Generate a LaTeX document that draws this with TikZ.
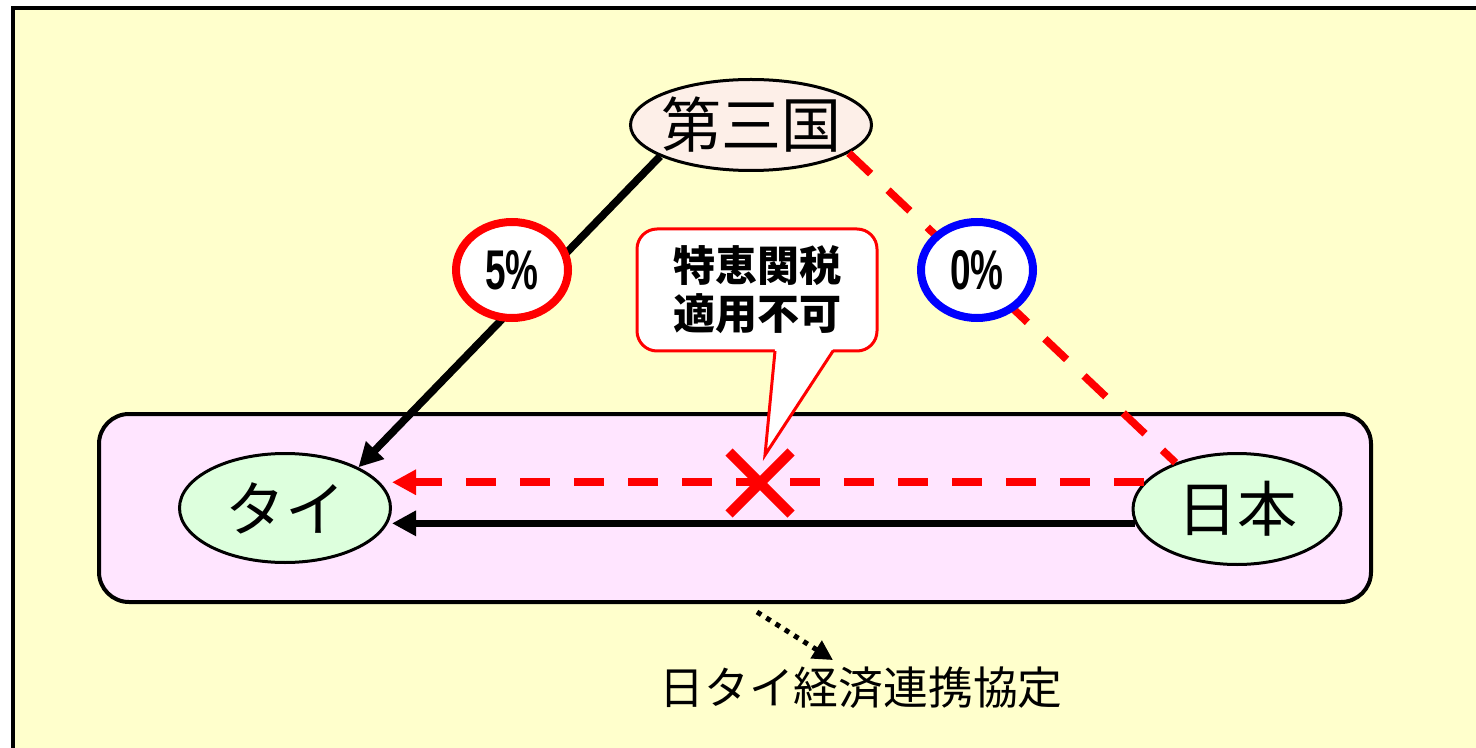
\documentclass[tikz,border=0pt]{standalone}
\usepackage{fontspec}
\newfontfamily\jp{Noto Sans CJK JP}
\newfontfamily\num[FakeStretch=0.66]{Liberation Sans}
\usepackage{tikz}
\usetikzlibrary{arrows.meta,shapes.geometric,shapes.misc}
\definecolor{paper}{RGB}{255,255,204}
\definecolor{epa}{RGB}{255,229,255}
\definecolor{land}{RGB}{221,255,221}
\definecolor{other}{RGB}{253,239,232}

\begin{document}
\begin{tikzpicture}[x=0.5pt, y=-0.5pt, >={Triangle[length=12pt,width=12pt]}]
\tikzstyle{country}=[draw, ellipse, line width=1.5pt, inner sep=0pt, fill=land, font=\jp\fontsize{30pt}{30pt}\selectfont];
\tikzstyle{rate}=[draw, ellipse, line width=4pt, inner sep=0pt, fill=white, minimum width=56pt, minimum height=48pt, font=\num\bfseries\fontsize{28pt}{28pt}\selectfont];
\tikzstyle{flow}=[line width=3.8pt];
\tikzstyle{blocked}=[line width=3.8pt, red, dash pattern=on 15pt off 12pt];
\useasboundingbox (0,0) rectangle (1476,748);
\clip (0,0) rectangle (1476,748);
\draw[line width=2pt, fill=paper] (13,8) rectangle (1500,770);
% agreement area
\path (735,508) node[draw, rounded corners=15pt, line width=2pt, fill=epa, minimum width=636pt, minimum height=94pt] (E) {};
\path (751,125) node[country, fill=other, inner xsep=-3pt, minimum width=120.5pt, minimum height=45.5pt] (S) {第三国};
\path (285,508) node[country, minimum width=105.5pt, minimum height=54.5pt] (T) {タイ};
\path (1237,509) node[country, minimum width=104pt, minimum height=55.5pt] (J) {日本};
% trade routes
\path[flow, ->] (S.199) edge (T.29);
\path[blocked] (S.344) edge (J.143);
\path[blocked, ->] (J.164) edge (J.164 -| T.east);
\path[flow, ->] (J.188) edge (J.188 -| T.east);
% tariff rates
\path (512,270) node[rate, draw=red] (R) {5\%};
\path (977,270) node[rate, draw=blue] (Z) {0\%};
% callout
\path (757,290) node[draw=red, fill=white, line width=1.5pt, rounded corners=10pt, outer sep=0pt, minimum width=120pt, minimum height=61pt, align=center, font=\jp\bfseries\fontsize{21pt}{24pt}\selectfont] (C) {特恵関税\\適用不可};
\coordinate (P) at (765,455);
\fill[white] ([xshift=9pt, yshift=1pt]C.south) -- (P) -- ([xshift=38pt, yshift=1pt]C.south) -- cycle;
\draw[red, line width=1.5pt] ([xshift=9pt]C.south) -- (P) -- ([xshift=38pt]C.south);
\path (760,483) node[cross out, draw=red, line width=5pt, minimum size=26pt, inner sep=0pt] (X) {};
% label
\path (861,688) node[font=\jp\fontsize{22.4pt}{22.4pt}\selectfont] (L) {日タイ経済連携協定};
\path[line width=2.5pt, dash pattern=on 2.5pt off 3pt, ->, >={Triangle[length=10pt,width=10pt]}] ([shift={(11pt,-4pt)}]E.south) edge ([xshift=-14pt]L.north);
\end{tikzpicture}
\end{document}
